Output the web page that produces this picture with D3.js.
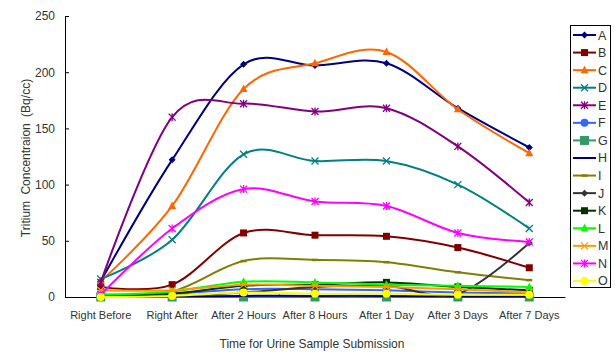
<!DOCTYPE html>
<html><head><meta charset="utf-8">
<script src="https://cdn.jsdelivr.net/npm/d3@7"></script>
<style>body{margin:0;background:#fff}svg{display:block}text{font-family:"Liberation Sans",Arial,sans-serif;fill:#333}</style>
</head><body><svg id="c" width="615" height="352"></svg>
<script>
const categories = ["Right Before","Right After","After 2 Hours","After 8 Hours","After 1 Day","After 3 Days","After 7 Days"];
const yTicks = [0,50,100,150,200,250];
const seriesNames = ["A","B","C","D","E","F","G","H","I","J","K","L","M","N","O"];
const A = [14,122,207,206,208,168,133];
const B = [9,11,57,55,54,44,26];
const C = [14,81,185,208,218,167,128];
const D = [16,51,127,121,121,100,61];
const E = [13,160,172,165,168,134,84];
const F = [2,3,7,7,6,4,3];
const G = [0,0,0,0,0,0,0];
const H = [0,0.5,1,1,1,0.5,0.5];
const I = [2,5,32,33,31,22,15];
const J = [0,1,4,9,10,3,48];
const K = [1,3,10,11,13,9,6];
const L = [2,5,13.5,13,11,10,9];
const M = [6,6,11,10,9,7,4];
const N = [2,61,96,85,81,57,49];
const O = [0,1,4,3,3,2,2];
const values = [A,B,C,D,E,F,G,H,I,J,K,L,M,N,O];
const colors = ["#000080","#800000","#FF6600","#008080","#800080","#3366FF","#339966","#000080","#808000","#333333","#003300","#00FF00","#FF9900","#FF00FF","#FFFF00"];
const markers = ["diamond","square","triangle","x","star","circle","bigsquare","dash","dash2","diamond","square","triangle","x","star","circle"];

const svg = d3.select("#c");
const x = d3.scaleBand().domain(categories).range([65,565]);
const y = d3.scaleLinear().domain([0,250]).range([297,16]);
const cx = d => x(d) + x.bandwidth()/2;

const yAxis = d3.axisLeft(y).tickValues(yTicks).tickSize(-4).tickPadding(10);
const gy = svg.append("g").attr("transform","translate(65,0)").call(yAxis);
gy.select(".domain").attr("stroke","#000").attr("stroke-width",1);
gy.selectAll(".tick line").attr("stroke","#000");
gy.selectAll("text").attr("font-size",12).attr("fill","#333").style("font-family","Liberation Sans, Arial");

const xAxis = d3.axisBottom(x).tickSize(0).tickPadding(14);
const gx = svg.append("g").attr("transform","translate(0,297)").call(xAxis);
gx.select(".domain").attr("stroke","#000").attr("stroke-width",1.2);
gx.selectAll("text").attr("font-size",11).attr("fill","#333").style("font-family","Liberation Sans, Arial");
gx.selectAll(".btick").data(categories.slice(1)).enter().append("line")
  .attr("x1",d=>x(d)).attr("x2",d=>x(d)).attr("y1",0).attr("y2",-3).attr("stroke","#777");

svg.append("text").attr("x",312).attr("y",348).attr("text-anchor","middle").attr("font-size",12)
  .text("Time for Urine Sample Submission");
svg.append("text").attr("transform","translate(30,158) rotate(-90)").attr("text-anchor","middle")
  .attr("font-size",12).attr("word-spacing",3).text("Tritium Concentraion (Bq/cc)");

function drawMarker(g, type, col, px, py) {
  const s = 3.5;
  if (type==="diamond") g.append("path").attr("d",`M${px},${py-s}L${px+s},${py}L${px},${py+s}L${px-s},${py}Z`).attr("fill",col);
  else if (type==="square") g.append("rect").attr("x",px-s).attr("y",py-s).attr("width",2*s).attr("height",2*s).attr("fill",col);
  else if (type==="bigsquare") g.append("rect").attr("x",px-4.5).attr("y",py-4.5).attr("width",9).attr("height",9).attr("fill",col);
  else if (type==="triangle") g.append("path").attr("d",`M${px},${py-4.5}L${px+4},${py+3}L${px-4},${py+3}Z`).attr("fill",col);
  else if (type==="circle") g.append("circle").attr("cx",px).attr("cy",py).attr("r",4).attr("fill",col);
  else if (type==="x") g.append("path").attr("d",`M${px-s},${py-s}L${px+s},${py+s}M${px-s},${py+s}L${px+s},${py-s}`).attr("stroke",col).attr("stroke-width",1.3);
  else if (type==="star") g.append("path").attr("d",`M${px-s},${py-s}L${px+s},${py+s}M${px-s},${py+s}L${px+s},${py-s}M${px},${py-s-0.5}L${px},${py+s+0.5}`).attr("stroke",col).attr("stroke-width",1.3);
  else if (type==="dash") g.append("path").attr("d",`M${px-2},${py}L${px+2},${py}`).attr("stroke",col).attr("stroke-width",2);
  else if (type==="dash2") g.append("path").attr("d",`M${px-3},${py}L${px+3},${py}`).attr("stroke",col).attr("stroke-width",2.5);
}

const line = d3.line().x((d,i)=>cx(categories[i])).y(d=>y(d)).curve(d3.curveCardinal.tension(0));
const plot = svg.append("g");
values.forEach((vals,si)=>{
  const g = plot.append("g");
  g.append("path").attr("d",line(vals)).attr("fill","none").attr("stroke",colors[si]).attr("stroke-width",2);
  vals.forEach((v,i)=>drawMarker(g, markers[si], colors[si], cx(categories[i]), y(v)));
});

const lg = svg.append("g");
lg.append("rect").attr("x",570.5).attr("y",25.5).attr("width",40).attr("height",262).attr("fill","#fff").attr("stroke","#000");
seriesNames.forEach((n,i)=>{
  const yy = 35 + i*17.57;
  lg.append("line").attr("x1",573).attr("x2",596).attr("y1",yy).attr("y2",yy).attr("stroke",colors[i]).attr("stroke-width",2);
  drawMarker(lg, markers[i], colors[i], 584.5, yy);
  lg.append("text").attr("x",598).attr("y",yy+4.5).attr("font-size",12.5).text(n);
});
</script></body></html>
